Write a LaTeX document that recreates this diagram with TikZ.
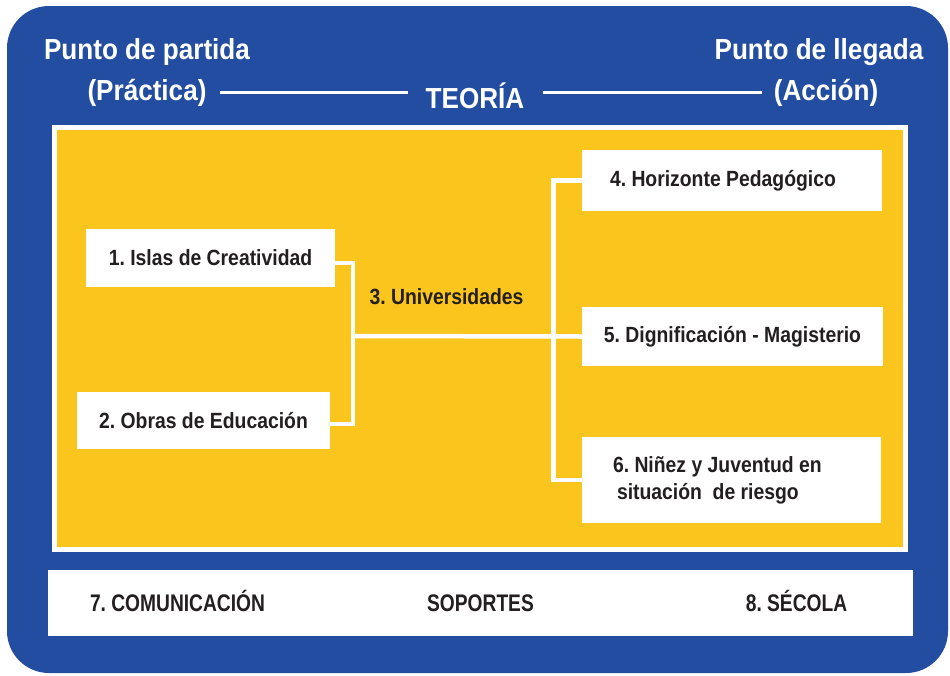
\documentclass[tikz,border=0pt]{standalone}
\usepackage{fontspec}
\setmainfont{Liberation Sans}
\newfontfamily\titlefont[FakeStretch=0.9]{Liberation Sans}
\newfontfamily\boxfont[FakeStretch=0.88]{Liberation Sans}
\newfontfamily\basefont[FakeStretch=0.8]{Liberation Sans}
\definecolor{bgblue}{RGB}{35,77,160}
\definecolor{panelyellow}{RGB}{250,197,28}
\definecolor{ink}{RGB}{35,31,32}
\frenchspacing
\begin{document}
\begin{tikzpicture}[x=1pt,y=-1pt,
  titletxt/.style={text=white, font=\titlefont\bfseries\fontsize{29}{33}\selectfont, inner sep=0pt, align=center},
  itembox/.style={fill=white, text=ink, font=\boxfont\bfseries\fontsize{22}{27}\selectfont, inner sep=0pt},
  itemtxt/.style={text=ink, font=\boxfont\bfseries\fontsize{22}{27}\selectfont, inner sep=0pt},
  conn/.style={draw=white, line width=4.5pt},
  tline/.style={draw=white, line width=3.5pt},
  basetxt/.style={text=ink, font=\basefont\bfseries\fontsize{24}{28}\selectfont, inner sep=0pt}]
\useasboundingbox (0,0) rectangle (950,675);
\fill[bgblue, rounded corners=42pt] (7,6) rectangle (948,673);
\draw[white, line width=5pt, fill=panelyellow] (54.5,127.5) rectangle (905.5,549.5);

% header
\node[titletxt] (start1) at (147,52) {Punto de partida};
\node[titletxt, inner xsep=13pt] (prac) at (147,92.5) {(Práctica)};
\node[titletxt] (end1) at (819,52) {Punto de llegada};
\node[titletxt, inner xsep=12pt] (acc) at (826,92.5) {(Acción)};
\node[titletxt, inner xsep=18pt] (teo) at (475,95.5) {TEORÍA};
\draw[tline] (prac.east) -- (prac.east -| teo.west);
\draw[tline] (acc.west -| teo.east) -- (acc.west);

% items
\node[itembox, minimum width=249pt, minimum height=58pt] (b1) at (210.5,258) {1. Islas de Creatividad};
\node[itembox, minimum width=253pt, minimum height=57pt] (b2) at (203.5,420.5) {2. Obras de Educación};
\node[itemtxt] (uni) at (446.5,297) {3. Universidades};
\node[itembox, minimum width=300pt, minimum height=61pt, align=flush left, text width=244pt, inner xsep=28pt] (b4) at (732,180.5) {4. Horizonte Pedagógico};
\node[itembox, minimum width=301pt, minimum height=59pt] (b5) at (732.5,336.5) {5. Dignificación - Magisterio};
\node[itembox, minimum width=299pt, minimum height=86pt, align=flush left, text width=237pt, inner xsep=31pt] (b6) at (731.5,480) {6. Niñez y Juventud en\\\hspace*{4pt}situación\ \ de riesgo};

\coordinate (jl) at (353,336);
\coordinate (jr) at (553.5,336);
\draw[conn] ([yshift=-5pt]b1.east) -| (jl) |- ([yshift=-3.5pt]b2.east);
\draw[conn] (jl) -- (b5.west);
\draw[conn] (b4.west) -| (jr) |- (b6.west);

% bottom bar
\node[fill=white, minimum width=865pt, minimum height=66pt, inner sep=0pt, text=ink, font=\basefont\bfseries\fontsize{24}{28}\selectfont] (sup) at (480.5,603) {SOPORTES};
\node[basetxt] (com) at (177.5,601) {7. COMUNICACIÓN};
\node[basetxt] (sec) at (796.5,601) {8. SÉCOLA};
\end{tikzpicture}
\end{document}
